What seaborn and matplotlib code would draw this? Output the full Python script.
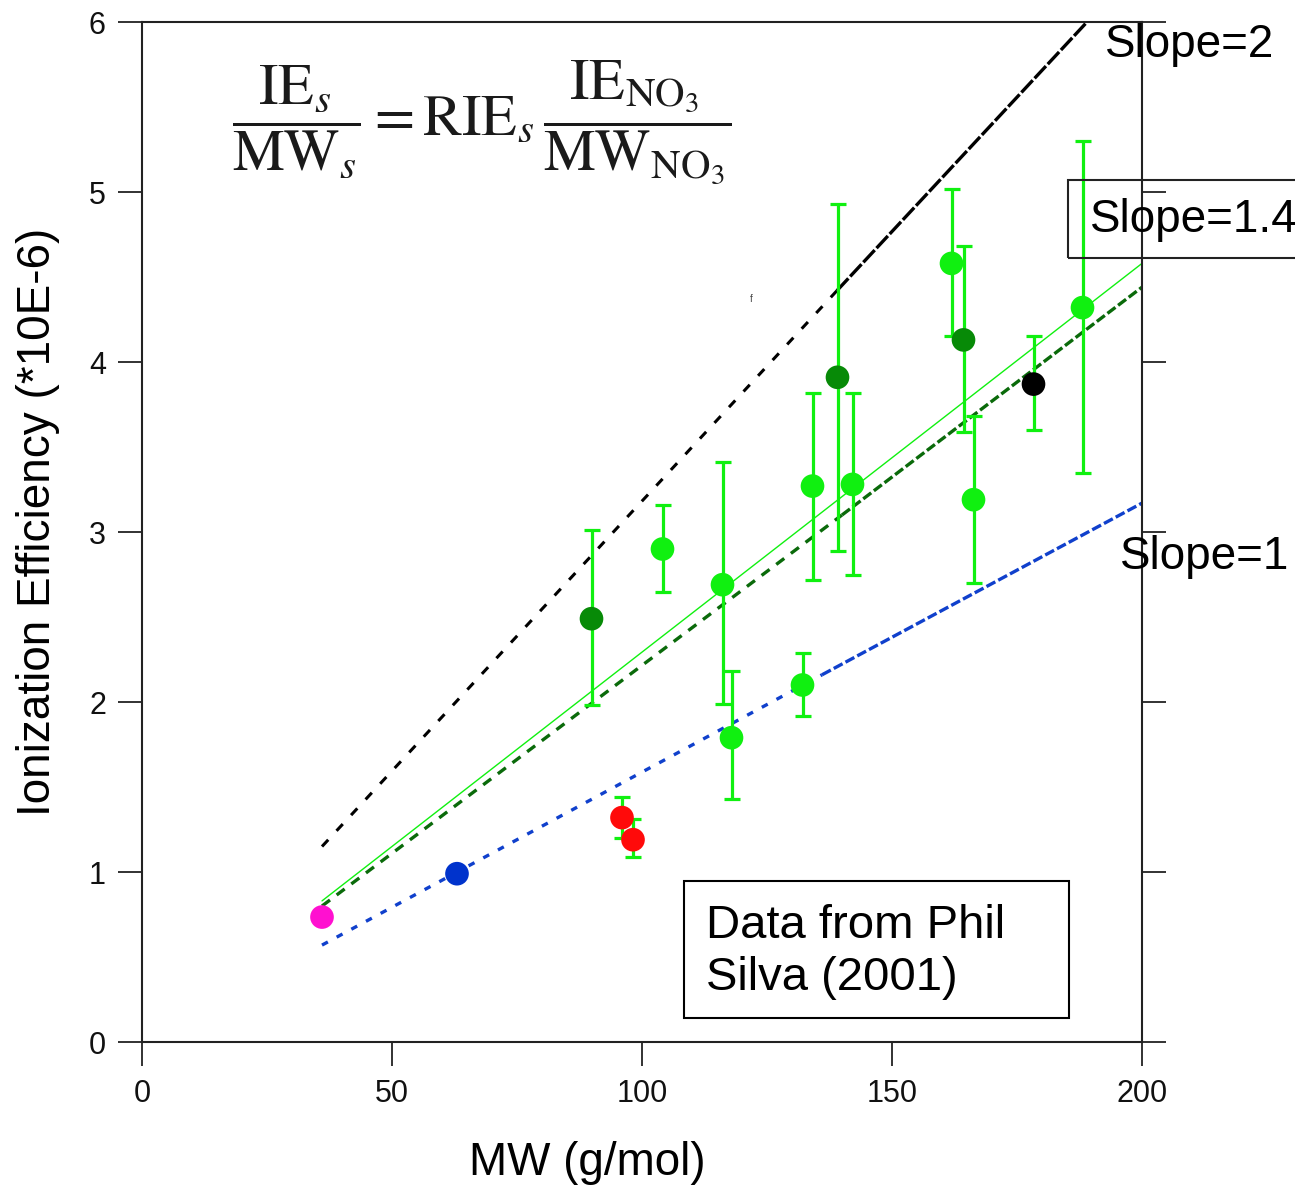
import numpy as np
import pandas as pd
import matplotlib
matplotlib.use("Agg")
import matplotlib.pyplot as plt
from matplotlib.patches import Rectangle
import seaborn as sns

# measured points (MW in g/mol, IE in 1E-6)
mw = [36, 63, 96, 98.2, 89.9, 104.1, 116.1, 117.9, 132.1, 134.1, 139.1,
      142.1, 161.9, 164.3, 166.3, 178.3, 188.1]
ie = [0.735, 0.99, 1.32, 1.19, 2.49, 2.90, 2.69, 1.79, 2.10, 3.27, 3.91,
      3.28, 4.58, 4.13, 3.19, 3.87, 4.32]
ie_hi = [np.nan, np.nan, 1.44, 1.31, 3.01, 3.16, 3.41, 2.18, 2.29, 3.82, 4.93,
         3.82, 5.02, 4.68, 3.68, 4.15, 5.30]
ie_lo = [np.nan, np.nan, 1.20, 1.09, 1.98, 2.65, 1.99, 1.43, 1.92, 2.72, 2.89,
         2.75, 4.15, 3.59, 2.70, 3.60, 3.35]
group = ["pink", "blue", "red", "red", "dark", "light", "light", "light",
         "light", "light", "dark", "light", "light", "dark", "light", "black",
         "light"]

# reference lines: start, change of dash pattern, end
slope2_x = [36, 139, 189]
slope2_y = [1.15, 4.42, 6.0]
green_x = [36, 200]
green_y = [0.83, 4.58]
dkgreen_x = [36, 140, 200]
dkgreen_y = [0.80, 3.10, 4.44]
blue_x = [36, 136, 200]
blue_y = [0.57, 2.16, 3.17]

xticks = [0, 50, 100, 150, 200]
yticks = [0, 1, 2, 3, 4, 5, 6]

palette = {"pink": "#ff10d0", "blue": "#0033cc", "red": "#ff0a0a",
           "dark": "#078a07", "light": "#10f010", "black": "#000000"}

df = pd.DataFrame({"mw": mw, "ie": ie, "hi": ie_hi, "lo": ie_lo, "group": group})

sns.set_style("ticks")
plt.rcParams["font.family"] = ["Liberation Sans", "DejaVu Sans"]
plt.rcParams["mathtext.fontset"] = "stix"
plt.rcParams["text.color"] = "black"

fig = plt.figure(figsize=(12.95, 11.88), dpi=100)
ax = fig.add_axes([142 / 1295, 1 - 1042 / 1188, 1000 / 1295, 1020 / 1188])

# fit lines
ax.plot(slope2_x[:2], slope2_y[:2], color="black", lw=2.2, dashes=(3, 4), zorder=1)
ax.plot(slope2_x[1:], slope2_y[1:], color="black", lw=2.4, dashes=(5, 0.8), zorder=1)
ax.plot(green_x, green_y, color="#10f010", lw=1.0, zorder=1)
ax.plot(dkgreen_x[:2], dkgreen_y[:2], color="#0a6a0a", lw=2.4, dashes=(3, 2.5), zorder=1)
ax.plot(dkgreen_x[1:], dkgreen_y[1:], color="#0a6a0a", lw=2.4, dashes=(3, 1), zorder=1)
ax.plot(blue_x[:2], blue_y[:2], color="#1040cc", lw=2.4, dashes=(2, 3), zorder=1)
ax.plot(blue_x[1:], blue_y[1:], color="#1040cc", lw=2.4, dashes=(3, 1), zorder=1)

# error bars (all bright green)
eb = df.dropna()
ax.errorbar(eb["mw"], eb["ie"], yerr=[eb["ie"] - eb["lo"], eb["hi"] - eb["ie"]],
            fmt="none", ecolor="#10f010", elinewidth=2.3, capsize=6, capthick=2.3,
            zorder=2)

sns.scatterplot(data=df, x="mw", y="ie", hue="group", palette=palette, s=290,
                edgecolor="none", legend=False, ax=ax, zorder=3)

ax.set_xlim(0, 200)
ax.set_ylim(0, 6)
ax.set_xticks(xticks)
ax.set_yticks(yticks)
ax.tick_params(axis="both", direction="out", length=17, width=1.3,
               labelsize=22, labelcolor="#111111", color="#222222")
ax.tick_params(axis="x", pad=10)
ax.tick_params(axis="y", pad=9, right=True, labelright=False)
for sp in ax.spines.values():
    sp.set_linewidth(1.5)
    sp.set_color("#222222")

ax.set_xlabel("MW (g/mol)", fontsize=33, color="black")
ax.set_ylabel("Ionization Efficiency (*10E-6)", fontsize=33, color="black")
ax.xaxis.set_label_coords(0.445, -0.097)
ax.yaxis.set_label_coords(-0.082, 0.51)

# formula
fig.text(0.372, 0.897,
         r"$\dfrac{\mathrm{IE}_s}{\mathrm{MW}_s} = \mathrm{RIE}_s\,"
         r"\dfrac{\mathrm{IE}_{\mathrm{NO}_3}}{\mathrm{MW}_{\mathrm{NO}_3}}$",
         fontsize=42, ha="center", va="center", color="#1a1a1a")
ax.text(121.6, 4.35, "f", fontsize=7, color="#444444")

# slope labels
fig.text(1105 / 1295, 1 - 45 / 1188, "Slope=2", fontsize=33, va="center")
fig.text(1090 / 1295, 1 - 220 / 1188, "Slope=1.4", fontsize=33, va="center")
fig.patches.append(Rectangle((1068 / 1295, 1 - 258 / 1188), 0.3, 78 / 1188,
                             transform=fig.transFigure, fill=False,
                             edgecolor="#222222", lw=1.5))
fig.text(1120 / 1295, 1 - 557 / 1188, "Slope=1", fontsize=33, va="center")

# data source box
ax.add_patch(Rectangle((108.4, 0.141), 77.0, 0.806, fill=False,
                       edgecolor="black", lw=1.5, zorder=4))
ax.text(112.8, 0.53, "Data from Phil\nSilva (2001)", fontsize=34,
        va="center", ha="left", linespacing=1.25, zorder=4)

fig.savefig("out.png", dpi=100)
